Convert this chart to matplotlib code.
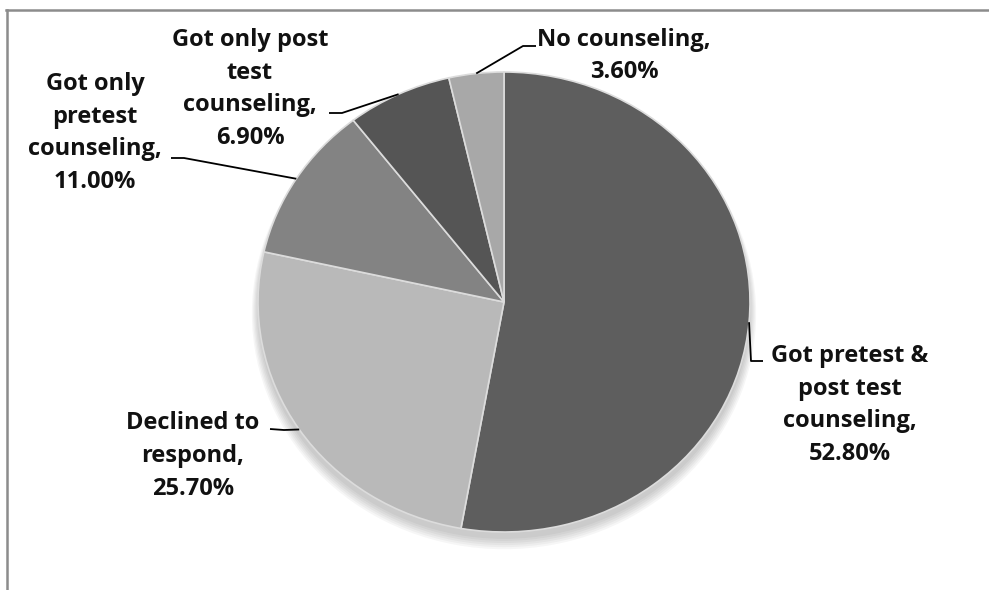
import numpy as np
import matplotlib
matplotlib.use("Agg")
import matplotlib.pyplot as plt
from matplotlib.lines import Line2D
from matplotlib.patches import Ellipse

labels = ["Got pretest &\npost test\ncounseling,", "Declined to\nrespond,",
          "Got only\npretest\ncounseling,", "Got only post\ntest\ncounseling,",
          "No counseling,"]
values = [52.8, 25.7, 11.0, 6.9, 3.6]
colors = ["#5e5e5e", "#b9b9b9", "#838383", "#555555", "#a8a8a8"]

# text centres (pixels from top-left) and leader elbow points
text_pos = [(850, 405), (193, 456), (95, 133), (250, 89), (624, 56)]
elbows = [[(751, 361), (763, 361)], [(284, 430), (270, 429)],
          [(184, 158), (171, 158)], [(342, 113), (329, 113)],
          [(523, 46), (536, 46)]]

W, H = 989, 590
cx, cy, rx, ry = 504, 302, 246, 230

plt.rcParams['font.family'] = ['Open Sans', 'DejaVu Sans']
fig = plt.figure(figsize=(W / 100, H / 100), dpi=100)
ax = fig.add_axes([(cx - rx) / W, 1 - (cy + ry) / H, 2 * rx / W, 2 * ry / H])

# soft shadow under the pie
for k in range(6):
    sh = Ellipse((0.0, -0.03 - 0.004 * k), 2.0 + 0.01 * k, 2.0 + 0.01 * k,
                 color="black", alpha=0.035, lw=0, clip_on=False)
    ax.add_patch(sh)

wedges, _ = ax.pie(values, colors=colors, startangle=90, counterclock=False,
                   wedgeprops=dict(edgecolor="#dcdcdc", linewidth=1.2))
ax.set_aspect("auto")
ax.set_xlim(-1, 1)
ax.set_ylim(-1, 1)
ax.axis("off")


def to_data(p):
    return ((p[0] - cx) / rx, (cy - p[1]) / ry)


for w, lab, v, tp, el in zip(wedges, labels, values, text_pos, elbows):
    ang = np.deg2rad((w.theta1 + w.theta2) / 2)
    start = (np.cos(ang), np.sin(ang))
    pts = [start] + [to_data(p) for p in el]
    ax.plot([p[0] for p in pts], [p[1] for p in pts], color="black", lw=1.3,
            clip_on=False, solid_capstyle="butt")
    tx, ty = to_data(tp)
    ax.text(tx, ty, "%s\n%.2f%%" % (lab, v), ha="center", va="center",
            fontsize=17, fontweight="bold", color="#111111",
            linespacing=1.48)

# frame lines (top and left)
fig.add_artist(Line2D([6 / W, 1], [1 - 10 / H, 1 - 10 / H], color="#8c8c8c", lw=1.8))
fig.add_artist(Line2D([7 / W, 7 / W], [1 - 10 / H, 0], color="#8c8c8c", lw=1.8))

fig.savefig("out.png", dpi=100)
